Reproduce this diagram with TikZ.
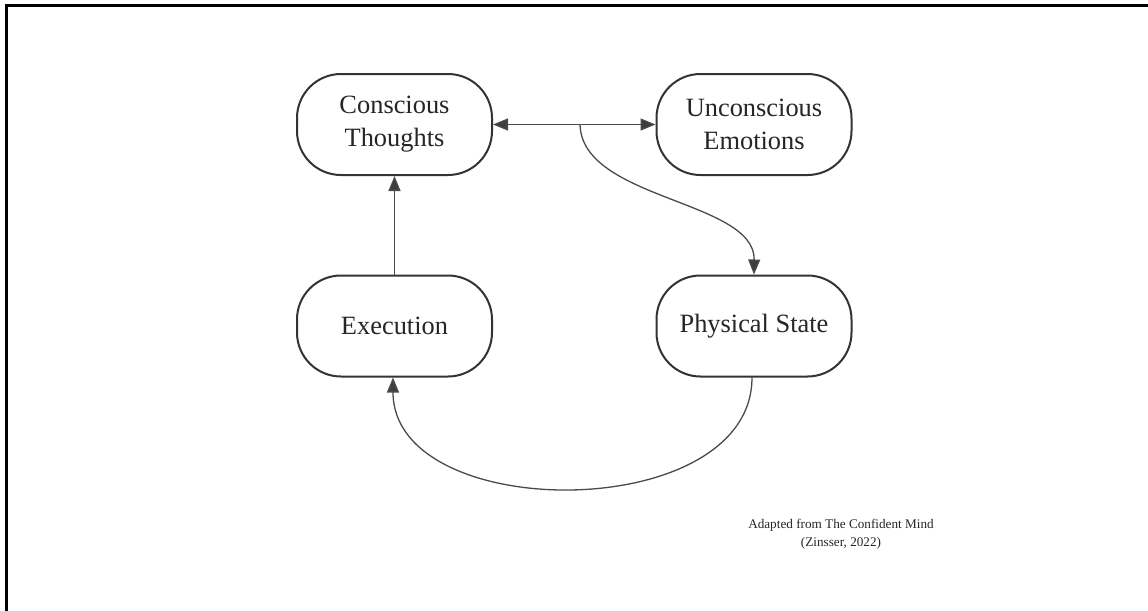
\documentclass[tikz,border=0pt]{standalone}
\usepackage{fontspec}
\setmainfont{Liberation Serif}
\usetikzlibrary{arrows.meta}
\definecolor{boxline}{HTML}{333333}
\definecolor{arrline}{HTML}{4A4A4A}
\definecolor{tipcol}{HTML}{3C3E45}
\tikzset{
  statebox/.style={draw=boxline, line width=1pt, rounded corners=22pt,
    minimum width=97.5pt, minimum height=50.5pt, inner sep=0pt,
    align=center, font=\fontsize{13.2pt}{16.5pt}\selectfont, text=black!85},
  link/.style={draw=arrline, line width=0.65pt},
  tip/.style={-{Triangle[length=7.5pt,width=6pt,fill=tipcol]}},
  frameline/.style={draw=black, line width=1.1pt},
  note/.style={font=\fontsize{6.6pt}{9pt}\selectfont, align=center, text=black!85}
}
\begin{document}
\begin{tikzpicture}[x=0.5pt,y=-0.5pt]
\useasboundingbox (0,0) rectangle (1148,611);
\fill[white] (0,0) rectangle (1148,611);
\coordinate (ftl) at (6.5,5.5);
\coordinate (ftr) at (1148,5.5);
\coordinate (fbl) at (6.5,611);
\draw[frameline] (ftr) -- (ftl) -- (fbl);

\node[statebox] (ct) at (394.5,124.5) {Conscious\\Thoughts};
\node[statebox] (ue) at (754,124.5) {Unconscious\\Emotions};
\node[statebox] (ex) at (394.5,326) {Execution};
\node[statebox] (ps) at (754,326) {Physical State};

\draw[link, {Triangle[length=7.5pt,width=6pt,fill=tipcol]}-{Triangle[length=7.5pt,width=6pt,fill=tipcol]}] (ct.east) -- (ue.west);
\coordinate (split) at (580,124.5);
\draw[link, tip] (split) .. controls (582,200) and (755,200) .. (ps.north);
\draw[link, tip] (ex.north) -- (ct.south);
\draw[link, tip] (ps.south -| 752,0) .. controls (752,525) and (393,525) .. (ex.south -| 393,0);

\node[note] (src) at (841,534) {Adapted from The Confident Mind\\(Zinsser, 2022)};
\end{tikzpicture}
\end{document}
